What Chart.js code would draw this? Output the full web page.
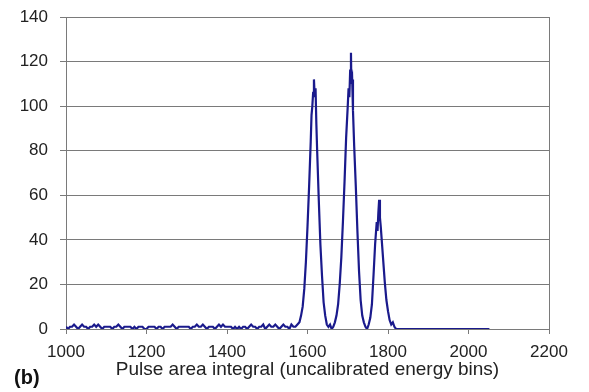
<!DOCTYPE html>
<html>
<head>
<meta charset="UTF-8" />
<title>Pulse area spectrum</title>
<script src="https://cdn.jsdelivr.net/npm/chart.js"></script>
<style>
  html, body { margin: 0; padding: 0; background: #fff; }
  #wrap { position: relative; width: 589px; height: 392px; }
  #tag {
    position: absolute; left: 14px; top: 366px;
    font: bold 20px 'Liberation Sans', Arial, sans-serif; color: #111;
  }
</style>
</head>
<body>
<div id="wrap">
  <canvas id="spec" width="589" height="392"></canvas>
  <div id="tag">(b)</div>
</div>
<script>
// noise floor below the peaks, 5-bin spacing
const floorBins = [
  1000,1005,1010,1015,1020,1025,1030,1035,1040,1045,1050,1055,1060,1065,1070,1075,1080,1085,1090,1095,
  1100,1105,1110,1115,1120,1125,1130,1135,1140,1145,1150,1155,1160,1165,1170,1175,1180,1185,1190,1195,
  1200,1205,1210,1215,1220,1225,1230,1235,1240,1245,1250,1255,1260,1265,1270,1275,1280,1285,1290,1295,
  1300,1305,1310,1315,1320,1325,1330,1335,1340,1345,1350,1355,1360,1365,1370,1375,1380,1385,1390,1395,
  1400,1405,1410,1415,1420,1425,1430,1435,1440,1445,1450,1455,1460,1465,1470,1475,1480,1485,1490,1495,
  1500,1505,1510,1515,1520,1525,1530,1535,1540,1545,1550,1555,1560,1565,1570,1575
];
const floorCounts = [
  1,0,1,1,2,1,0,1,2,1, 1,0,1,1,2,1,2,1,0,1,
  1,1,1,0,1,1,2,1,0,1, 1,1,1,0,1,0,1,1,1,0,
  0,1,1,1,1,0,1,1,0,1, 1,1,1,2,1,0,1,1,1,1,
  1,1,0,1,1,2,1,1,2,1, 0,1,1,1,0,1,2,1,2,1,
  1,1,1,0,1,0,1,0,1,1, 0,1,2,1,1,0,1,1,2,0,
  1,2,1,1,2,1,0,1,2,1, 1,0,2,1,1,2
];
// the three lines and the empty tail
const peakBins = [
  1580,1584,1588,1592,1596,1600,1604,1608,1610,1612,1614,1616,1618,1620,1622,1624,
  1628,1632,1636,1640,1644,1648,1652,1656,1660,1664,1668,1672,1676,1680,1684,1688,
  1692,1696,1700,1702,1704,1706,1708,1709,1711,1713,1716,1720,1724,1728,1732,1736,
  1740,1744,1748,1752,1756,1760,1764,1768,1772,1774,1776,1778,1780,1782,1784,1788,
  1792,1796,1800,1804,1808,1812,1816,1820,1830,1900,2000,2052
];
const peakCounts = [
  3,6,10,18,30,46,64,84,96,100,106,112,104,108,92,80,
  58,38,24,12,6,2,1,2,0,1,3,6,11,20,32,48,
  66,86,100,108,104,116,124,110,112,98,82,64,44,26,13,6,
  3,1,0,2,5,11,24,38,48,44,52,58,50,46,41,31,
  21,13,8,4,2,3,1,0,0,0,0,0
];
const xTicks = [1000, 1200, 1400, 1600, 1800, 2000, 2200];
const yTicks = [0, 20, 40, 60, 80, 100, 120, 140];

const bins = floorBins.concat(peakBins);
const counts = floorCounts.concat(peakCounts);
const points = bins.map((b, i) => ({ x: b, y: counts[i] }));

const gridGray = '#7a7a7a';
const sans = "'Liberation Sans', Arial, sans-serif";
const tickFont = { family: sans, size: 17 };

new Chart(document.getElementById('spec'), {
  type: 'line',
  data: {
    datasets: [{
      data: points,
      borderColor: '#1a1a8c',
      borderWidth: 2.2,
      pointRadius: 0,
      tension: 0,
      fill: false
    }]
  },
  options: {
    responsive: false,
    animation: false,
    layout: { padding: { left: 0, right: 40, top: 17, bottom: 11 } },
    plugins: { legend: { display: false }, tooltip: { enabled: false } },
    scales: {
      x: {
        type: 'linear',
        min: 1000, max: 2200,
        afterBuildTicks: s => { s.ticks = xTicks.map(v => ({ value: v })); },
        afterFit: s => { s.height = 52; s.paddingLeft = 0; s.paddingRight = 0; },
        ticks: { font: tickFont, color: '#222', padding: 8, maxRotation: 0, callback: v => String(v) },
        grid: {
          color: c => (c.tick && c.tick.value === 2200) ? gridGray : 'rgba(0,0,0,0)',
          tickColor: gridGray,
          tickLength: 5,
          lineWidth: 1
        },
        border: { color: gridGray, width: 1 },
        title: {
          display: true,
          text: 'Pulse area integral (uncalibrated energy bins)',
          font: { family: sans, size: 19 },
          color: '#222',
          padding: 0
        }
      },
      y: {
        min: 0, max: 140,
        afterBuildTicks: s => { s.ticks = yTicks.map(v => ({ value: v })); },
        afterFit: s => { s.width = 66; s.paddingTop = 0; s.paddingBottom = 0; },
        ticks: { font: tickFont, color: '#222', padding: 12, callback: v => String(v) },
        grid: { color: gridGray, tickColor: gridGray, tickLength: 6, lineWidth: 1 },
        border: { color: gridGray, width: 1 }
      }
    }
  }
});
</script>
</body>
</html>
